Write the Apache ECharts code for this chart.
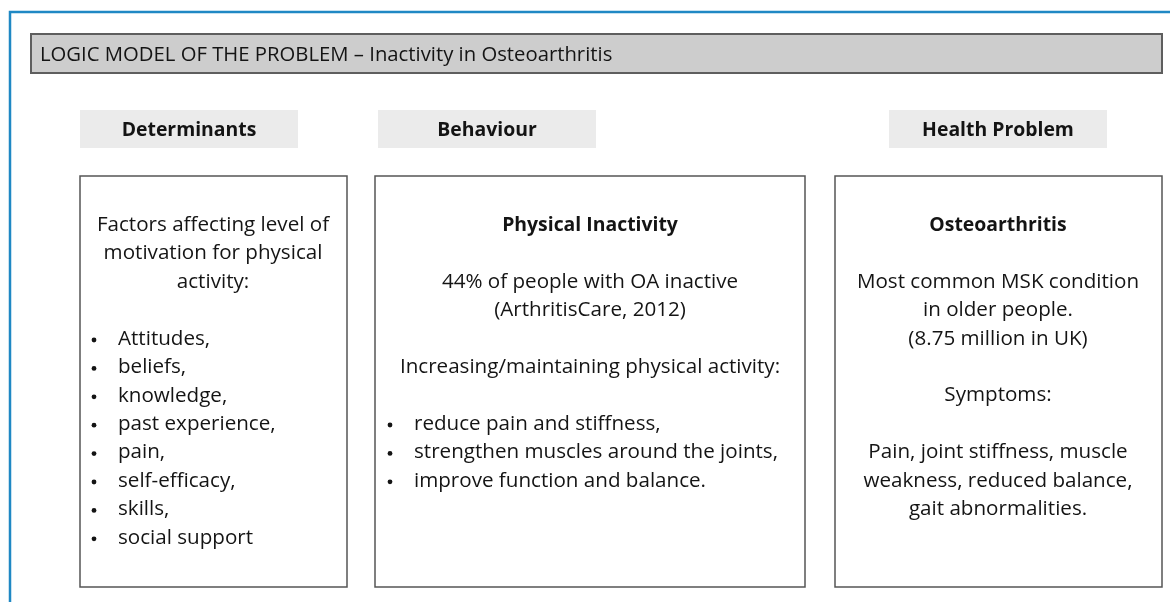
<!DOCTYPE html>
<html>
<head>
<meta charset="utf-8">
<script src="https://cdn.jsdelivr.net/npm/echarts@6/dist/echarts.min.js"></script>
<style>
  html, body { margin: 0; padding: 0; background: #fff; }
  #main { width: 1170px; height: 602px; }
</style>
</head>
<body>
<div id="main"></div>
<script>
// text content of the logic model
var titleText = 'LOGIC MODEL OF THE PROBLEM \u2013 Inactivity in Osteoarthritis';
var headers = ['Determinants', 'Behaviour', 'Health Problem'];

var detIntro = ['Factors affecting level of', 'motivation for physical', 'activity:'];
var detBullets = ['Attitudes,', 'beliefs,', 'knowledge,', 'past experience,', 'pain,', 'self-efficacy,', 'skills,', 'social support'];

var behHead = 'Physical Inactivity';
var behLines = ['44% of people with OA inactive', '(ArthritisCare, 2012)', '', 'Increasing/maintaining physical activity:'];
var behBullets = ['reduce pain and stiffness,', 'strengthen muscles around the joints,', 'improve function and balance.'];

var hpHead = 'Osteoarthritis';
var hpLines = ['Most common MSK condition', 'in older people.', '(8.75 million in UK)', '', 'Symptoms:', '', 'Pain, joint stiffness, muscle', 'weakness, reduced balance,', 'gait abnormalities.'];

var FONT = '"Open Sans", Lato, sans-serif';
var FS = 20.6;
var FSB = 19.4;
var LH = 28.4;
var TXT = '#141414';

var chart = echarts.init(document.getElementById('main'));
var g = [];

// outer blue frame
g.push({ type: 'rect', shape: { x: 10, y: 12, width: 1200, height: 640 },
  style: { fill: 'none', stroke: '#1f88c4', lineWidth: 2.5 } });

// title bar
g.push({ type: 'rect', shape: { x: 31, y: 34, width: 1131, height: 39 },
  style: { fill: '#cdcdcd', stroke: '#5e5e5e', lineWidth: 2 } });
g.push({ type: 'text', x: 40, y: 55, style: { text: titleText, font: '20.3px ' + FONT,
  fill: TXT, verticalAlign: 'middle' } });

// header tabs
var hdrX = [80, 378, 889];
headers.forEach(function (h, i) {
  g.push({ type: 'rect', shape: { x: hdrX[i], y: 110, width: 218, height: 38 },
    style: { fill: '#ebebeb' } });
  g.push({ type: 'text', x: hdrX[i] + 109, y: 130, style: { text: h,
    font: 'bold ' + FSB + 'px ' + FONT, fill: TXT, align: 'center', verticalAlign: 'middle' } });
});

// content boxes
var boxes = [[80, 267], [375, 430], [835, 327]];
boxes.forEach(function (b) {
  g.push({ type: 'rect', shape: { x: b[0], y: 176, width: b[1], height: 411 },
    style: { fill: '#fff', stroke: '#555', lineWidth: 1.5 } });
});

function centered(lines, cx, y0, bold) {
  lines.forEach(function (t, i) {
    if (!t) return;
    g.push({ type: 'text', x: cx, y: y0 + i * LH, style: { text: t,
      font: (bold ? 'bold ' + FSB : FS) + 'px ' + FONT, fill: TXT, align: 'center', verticalAlign: 'middle' } });
  });
}
function bullets(items, bx, tx, y0) {
  items.forEach(function (t, i) {
    var y = y0 + i * LH;
    g.push({ type: 'circle', shape: { cx: bx, cy: y + 1, r: 2.4 }, style: { fill: TXT } });
    g.push({ type: 'text', x: tx, y: y, style: { text: t, font: FS + 'px ' + FONT,
      fill: TXT, verticalAlign: 'middle' } });
  });
}

// determinants
centered(detIntro, 213, 225, false);
bullets(detBullets, 94, 118, 339);

// behaviour
centered([behHead], 590, 225, true);
centered(behLines, 590, 282, false);
bullets(behBullets, 390, 414, 424);

// health problem
centered([hpHead], 998, 225, true);
centered(hpLines, 998, 282, false);

chart.setOption({ animation: false, graphic: { elements: g } });
</script>
</body>
</html>
